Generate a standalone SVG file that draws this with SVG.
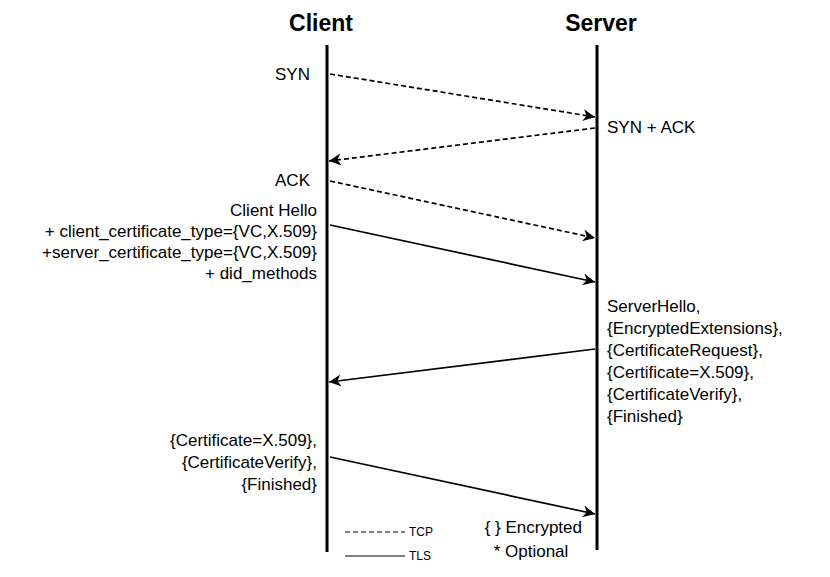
<svg xmlns="http://www.w3.org/2000/svg" width="830" height="577" viewBox="0 0 830 577">
<defs>
<style>
text{font-family:"Liberation Sans",Arial,sans-serif;fill:#000}
.t{font-size:17px}
.h{font-size:23px;font-weight:bold}
.s{font-size:12px}
.life{stroke:#000;stroke-width:3}
.msg{stroke:#000;stroke-width:1.7;fill:none;marker-end:url(#ah)}
.tcp{stroke-dasharray:5 3}
</style>
<marker id="ah" markerUnits="userSpaceOnUse" markerWidth="14" markerHeight="13" refX="12" refY="6" orient="auto">
<path d="M0,0 L12,6 L0,12 L3.5,6 Z" fill="#000"/>
</marker>
</defs>
<rect width="830" height="577" fill="#fff"/>
<g id="client">
<text class="h" x="321" y="31" text-anchor="middle">Client</text>
<line class="life" x1="327" y1="45" x2="327" y2="552"/>
</g>
<g id="server">
<text class="h" x="601" y="31" text-anchor="middle">Server</text>
<line class="life" x1="597" y1="45" x2="597" y2="550"/>
</g>
<g id="connectors">
<line class="msg tcp" x1="330" y1="74" x2="595" y2="117"/>
<line class="msg tcp" x1="595" y1="128" x2="329" y2="161"/>
<line class="msg tcp" x1="330" y1="181" x2="595" y2="238"/>
<line class="msg" x1="330" y1="225" x2="595" y2="282"/>
<line class="msg" x1="595" y1="349" x2="329" y2="382"/>
<line class="msg" x1="330" y1="457" x2="595" y2="514"/>
</g>
<g id="label-syn"><text class="t" x="310" y="80" text-anchor="end">SYN</text></g>
<g id="label-synack"><text class="t" x="607" y="133">SYN + ACK</text></g>
<g id="label-ack"><text class="t" x="310" y="186" text-anchor="end">ACK</text></g>
<g id="label-clienthello" text-anchor="end">
<text class="t" x="317" y="216">Client Hello</text>
<text class="t" x="317" y="237">+ client_certificate_type={VC,X.509}</text>
<text class="t" x="317" y="258">+server_certificate_type={VC,X.509}</text>
<text class="t" x="317" y="279">+ did_methods</text>
</g>
<g id="label-serverhello">
<text class="t" x="607" y="312">ServerHello,</text>
<text class="t" x="607" y="334">{EncryptedExtensions},</text>
<text class="t" x="607" y="356">{CertificateRequest},</text>
<text class="t" x="607" y="378">{Certificate=X.509},</text>
<text class="t" x="607" y="400">{CertificateVerify},</text>
<text class="t" x="607" y="422">{Finished}</text>
</g>
<g id="label-clientfinished" text-anchor="end">
<text class="t" x="317" y="446">{Certificate=X.509},</text>
<text class="t" x="317" y="468">{CertificateVerify},</text>
<text class="t" x="317" y="490">{Finished}</text>
</g>
<g id="legend">
<line x1="345" y1="532" x2="405" y2="532" stroke="#000" stroke-width="1.2" stroke-dasharray="5 3"/>
<text class="s" x="409" y="536">TCP</text>
<line x1="345" y1="556" x2="405" y2="556" stroke="#000" stroke-width="1.2"/>
<text class="s" x="409" y="560">TLS</text>
<text class="t" x="582" y="533" text-anchor="end">{ } Encrypted</text>
<text class="t" x="531" y="557" text-anchor="middle">* Optional</text>
</g>
</svg>
